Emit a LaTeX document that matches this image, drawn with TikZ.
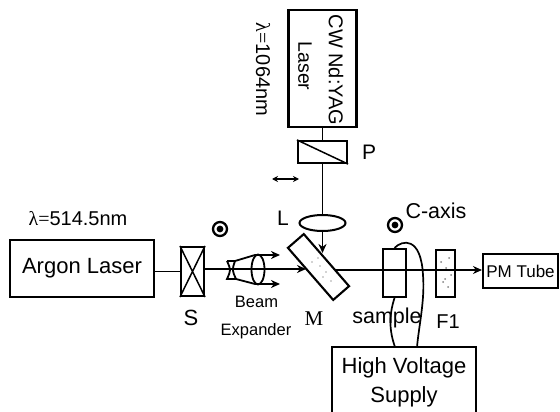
\documentclass[tikz,border=0pt]{standalone}
\usepackage{fontspec}
\setmainfont{Liberation Sans}
\newfontfamily\serifface{Liberation Serif}
\usetikzlibrary{arrows.meta,shapes.geometric}
\tikzset{
    box/.style={draw, line width=2.1pt, inner sep=0pt, align=center},
    beam/.style={line width=1.7pt},
    txt/.style={inner sep=0pt, font=\fontsize{#1}{#1}\selectfont},
    ringmark/.style={draw, circle, line width=2.3pt, minimum size=14pt, inner sep=0pt}
}

\begin{document}
\begin{tikzpicture}[x=1pt, y=-1pt, >={Stealth[length=9pt,width=8pt]}]
    \useasboundingbox (0,0) rectangle (560,412);

    % Lasers and boxes
    \node[box, txt=22, minimum width=144pt, minimum height=57pt] (argon) at (82,268.5) {Argon Laser};
    \node[box, minimum width=23pt, minimum height=49pt] (S) at (192.5,271.5) {};
    \node[box, minimum width=68pt, minimum height=117pt] (yag) at (322.5,68.5) {};
    \node[box, minimum width=49pt, minimum height=22pt] (P) at (322.5,152) {};
    \node[box, minimum width=23pt, minimum height=48pt] (sample) at (394.5,273) {};
    \node[box, minimum width=19pt, minimum height=47pt] (F1) at (445.5,273.5) {};
    \node[box, txt=17, minimum width=75pt, minimum height=34pt] (pm) at (520.5,271) {PM Tube};
    \node[box, font=\fontsize{22}{29}\selectfont, minimum width=144pt, minimum height=70pt] (hv) at (404,382) {High Voltage\\Supply};
    \node[box, minimum width=69pt, minimum height=21pt, rotate=-49] (M) at (318.5,267) {};
    \node[draw, ellipse, line width=2pt, minimum width=46pt, minimum height=16pt, inner sep=0pt] (L) at (322.5,223) {};

    % Marks inside the boxes
    \draw[line width=1.5pt] (S.north west) -- (S.south east) (S.north east) -- (S.south west);
    \draw[line width=1.5pt] (P.north west) -- (P.south east);
    \foreach \px/\py in {441/262, 449/258, 446/268, 451/275, 443/282, 448/287, 445/279}
        \fill[gray] (\px,\py) circle [radius=1];
    \foreach \px/\py in {312/262, 320/266, 326/272, 318/258, 331/281, 323/277}
        \fill[gray!70] (\px,\py) circle [radius=0.8];

    % Beam expander
    \node[draw, ellipse, line width=1.8pt, minimum width=13pt, minimum height=30pt, inner sep=0pt] (bigL) at (258,269.5) {};
    \draw[line width=1.8pt] (227,261) -- (235,261) .. controls (232,270) .. (236,279) -- (227,279) .. controls (231,270) .. (227,261);
    \draw[line width=1.8pt] (235,261) -- (255,255) (236,279) -- (255,284);
    \draw[beam, ->] (255,255) -- (280,255);
    \draw[beam, ->] (255,284) -- (280,284);

    % Optical path
    \coordinate (Min) at (306,269);
    \coordinate (Mout) at (335,270);
    \coordinate (Mtop) at (322.5,253);
    \draw[beam] (argon.east |- S.west) -- (S.west);
    \draw[beam, ->] (S.east |- Min) -- (Min);
    \draw[beam] (yag.south) -- (P.north);
    \draw[beam] (P.south) -- (L.north);
    \draw[beam, ->] (L.south) -- (Mtop);
    \draw[beam, ->] (Mout) -- (pm.west |- Mout);

    % Polarisation marks
    \node[ringmark] (dotA) at (220,229) {};
    \fill (dotA) circle [radius=3.4];
    \node[ringmark] (dotB) at (395,225) {};
    \fill (dotB) circle [radius=3.4];
    \coordinate (dblA) at (272,179);
    \coordinate (dblB) at (299,179);
    \draw[line width=1.3pt, {Stealth[length=6pt,width=6pt]}-{Stealth[length=6pt,width=6pt]}] (dblA) -- (dblB);

    % Wires to the supply
    \coordinate (hvA) at (417,347);
    \coordinate (hvB) at (395,347);
    \draw[beam] (sample.north) .. controls (402,240) and (421,236) .. (423,275) .. controls (425,300) and (419,325) .. (hvA);
    \draw[beam] (sample.south) .. controls (389,315) and (389,330) .. (hvB);

    % Labels
    \node[txt=20] (lamA) at (78,219) {{\serifface λ=}514.5nm};
    \node[txt=20, rotate=-90] (lamB) at (263,69.5) {{\serifface λ=}1064nm};
    \node[txt=20, rotate=-90] (yagT) at (336,70) {CW Nd:YAG};
    \node[txt=19.5, rotate=-90] (yagB) at (305,66) {Laser};
    \node[txt=21] (Plab) at (369,152) {P};
    \node[txt=21] (Llab) at (283,218) {L};
    \node[txt=22] (Slab) at (191,318) {S};
    \node[txt=16.5] (beamlab) at (256.5,302) {Beam};
    \node[txt=16.5] (explab) at (256,331) {Expander};
    \node[txt=21, font=\serifface\fontsize{21}{21}\selectfont] (Mlab) at (314,319) {M};
    \node[txt=21.5] (samplab) at (387,318) {sample};
    \node[txt=20] (F1lab) at (448,322) {F1};
    \node[txt=21.5] (caxis) at (436,211) {C-axis};
\end{tikzpicture}
\end{document}
